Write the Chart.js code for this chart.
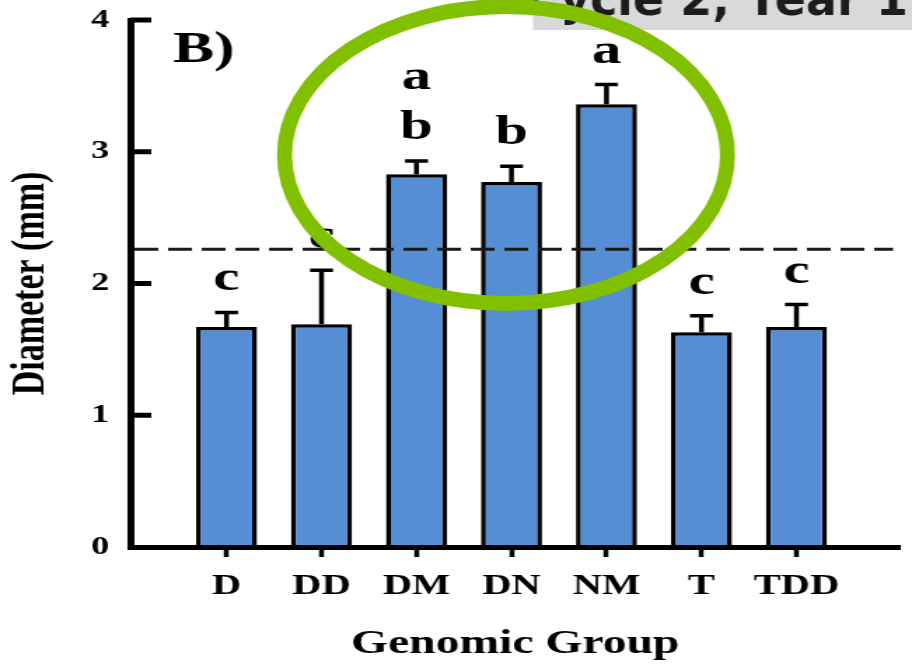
<!DOCTYPE html>
<html>
<head>
<meta charset="utf-8">
<script src="https://cdn.jsdelivr.net/npm/chart.js@4.4.1/dist/chart.umd.min.js"></script>
<style>
  html, body { margin: 0; padding: 0; background: #fff; overflow: hidden; }
  #fig { display: block; }
</style>
</head>
<body>
<!-- the figure is laid out on a narrower canvas and shown stretched to full width -->
<canvas id="fig" width="651" height="671" style="width:912px;height:671px"></canvas>
<script>
// Mean stem diameter by genomic group, with standard error and Tukey letters
const categories = ['D', 'DD', 'DM', 'DN', 'NM', 'T', 'TDD'];
const meanDiameter = [1.67, 1.69, 2.83, 2.77, 3.36, 1.63, 1.67];
const stdError = [0.11, 0.41, 0.10, 0.12, 0.15, 0.125, 0.17];
const groupLetters = ['c', 'c', 'ab', 'b', 'a', 'c', 'c'];
const yTicks = [0, 1, 2, 3, 4];
const overallMean = 2.26;
const panelLabel = 'B)';
const bannerText = 'Cycle 2, Year 1';

const SERIF = "'Liberation Serif', 'Times New Roman', serif";
const SX = 912 / 651; // horizontal display stretch of the canvas

const figureDecor = {
  id: 'figureDecor',
  afterDatasetsDraw(chart) {
    const { ctx, chartArea: a, scales: { y } } = chart;
    const bars = chart.getDatasetMeta(0).data;
    ctx.save();
    ctx.strokeStyle = '#000';
    ctx.lineCap = 'butt';

    // tick marks pointing into the plot on the value axis
    ctx.lineWidth = 5;
    y.ticks.forEach(t => {
      if (t.value === 0) return;
      const py = y.getPixelForValue(t.value);
      ctx.beginPath();
      ctx.moveTo(a.left, py);
      ctx.lineTo(a.left + 15, py);
      ctx.stroke();
    });

    // upper error bars
    ctx.lineWidth = 3.5;
    bars.forEach((bar, i) => {
      const top = y.getPixelForValue(meanDiameter[i] + stdError[i]);
      ctx.beginPath();
      ctx.moveTo(bar.x, bar.y);
      ctx.lineTo(bar.x, top);
      ctx.moveTo(bar.x - 8.2, top);
      ctx.lineTo(bar.x + 8.2, top);
      ctx.stroke();
    });

    // overall mean reference line
    const my = y.getPixelForValue(overallMean);
    ctx.setLineDash([17, 7]);
    ctx.lineWidth = 3;
    ctx.strokeStyle = '#1a1a1a';
    ctx.beginPath();
    ctx.moveTo(a.left + 3, my);
    ctx.lineTo(a.right - 5, my);
    ctx.stroke();
    ctx.setLineDash([]);

    // significance letters above each error bar
    ctx.fillStyle = '#000';
    ctx.font = `bold 42px ${SERIF}`;
    ctx.textAlign = 'center';
    ctx.textBaseline = 'alphabetic';
    bars.forEach((bar, i) => {
      const base = y.getPixelForValue(meanDiameter[i] + stdError[i]) - 22;
      const chars = groupLetters[i].split('');
      chars.forEach((ch, k) => {
        ctx.fillText(ch, bar.x, base - (chars.length - 1 - k) * 50);
      });
    });

    // panel label
    ctx.textAlign = 'left';
    ctx.font = `bold 44px ${SERIF}`;
    ctx.fillText(panelLabel, a.left + 30.5, 62);
    ctx.restore();
  },
  afterDraw(chart) {
    // slide banner and highlight ring, drawn in unstretched page units
    const { ctx } = chart;
    ctx.save();
    ctx.scale(1 / SX, 1);
    ctx.fillStyle = '#d9d9d9';
    ctx.fillRect(533, -2, 400, 32);
    ctx.font = "bold 46px 'DejaVu Sans', Verdana, sans-serif";
    ctx.fillStyle = '#1c1c1c';
    ctx.textAlign = 'left';
    ctx.textBaseline = 'alphabetic';
    const tx = 590 - ctx.measureText('Cy').width;
    ctx.fillText(bannerText, tx, 15);
    ctx.strokeStyle = '#80c000';
    ctx.lineWidth = 15;
    ctx.beginPath();
    ctx.ellipse(506, 155, 221.5, 148.5, 0, 0, Math.PI * 2);
    ctx.stroke();
    ctx.restore();
  }
};

new Chart(document.getElementById('fig'), {
  type: 'bar',
  data: {
    datasets: [{
      data: categories.map((c, i) => ({ x: i, y: meanDiameter[i] })),
      backgroundColor: '#558ed5',
      borderColor: '#000',
      borderWidth: 3.5,
      barPercentage: 0.643,
      categoryPercentage: 1
    }]
  },
  options: {
    responsive: false,
    devicePixelRatio: 1,
    animation: false,
    events: [],
    layout: { padding: { top: 20, right: 8.5, bottom: 0, left: 0 } },
    plugins: { legend: { display: false }, tooltip: { enabled: false } },
    scales: {
      x: {
        type: 'linear',
        min: -1.013,
        max: 7.091,
        offset: false,
        afterBuildTicks: s => { s.ticks = categories.map((c, i) => ({ value: i })); },
        afterFit: s => { s.height = 124; s.paddingLeft = 0; s.paddingRight = 0; },
        ticks: {
          callback: v => categories[v],
          autoSkip: false,
          maxRotation: 0,
          padding: 12,
          color: '#000',
          font: { family: SERIF, size: 29, weight: 'bold' }
        },
        grid: {
          display: true,
          offset: false,
          drawOnChartArea: false,
          drawTicks: true,
          tickLength: 10,
          tickWidth: 3.5,
          tickColor: '#000'
        },
        border: { display: true, color: '#000', width: 5, z: 1 },
        title: {
          display: true,
          text: 'Genomic Group',
          color: '#000',
          font: { family: SERIF, size: 34, weight: 'bold' },
          padding: { top: 4, bottom: 6 }
        }
      },
      y: {
        min: 0,
        max: 4,
        afterBuildTicks: s => { s.ticks = yTicks.map(v => ({ value: v })); },
        afterFit: s => { s.width = 93; s.paddingTop = 0; s.paddingBottom = 0; },
        ticks: {
          padding: 15,
          color: '#000',
          font: { family: SERIF, size: 26, weight: 'bold' }
        },
        grid: { display: true, drawOnChartArea: false, drawTicks: false },
        border: { display: true, color: '#000', width: 5 },
        title: {
          display: true,
          text: 'Diameter (mm)',
          color: '#000',
          font: { family: SERIF, size: 34, weight: 'bold' },
          padding: { top: 2, bottom: 0 }
        }
      }
    }
  },
  plugins: [figureDecor]
});
</script>
</body>
</html>
